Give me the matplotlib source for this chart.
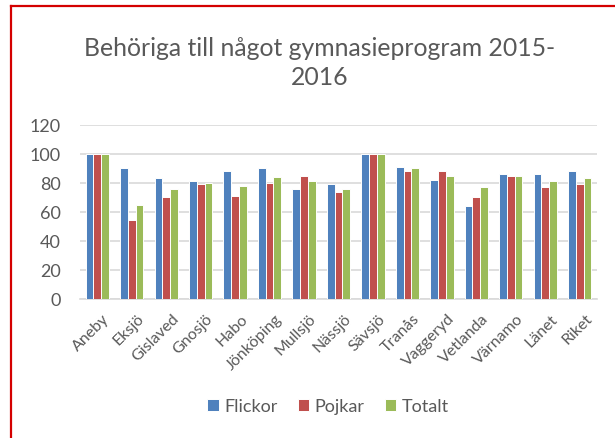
import matplotlib
matplotlib.use("Agg")
import matplotlib.pyplot as plt
from matplotlib.lines import Line2D
import numpy as np

plt.rcParams['font.family'] = ['Lato', 'DejaVu Sans']

categories = ["Aneby", "Eksjö", "Gislaved", "Gnosjö", "Habo", "Jönköping", "Mullsjö",
              "Nässjö", "Sävsjö", "Tranås", "Vaggeryd", "Vetlanda", "Värnamo", "Länet", "Riket"]
flickor = [100, 90, 83, 81, 88, 90, 76, 79, 100, 91, 82, 64, 86, 86, 88]
pojkar = [100, 54, 70, 79, 71, 80, 85, 74, 100, 88, 88, 70, 85, 77, 79]
totalt = [100, 65, 76, 80, 78, 84, 81, 76, 100, 90, 85, 77, 85, 81, 83]
series_names = ["Flickor", "Pojkar", "Totalt"]
colors = ["#4F81BD", "#C0504D", "#9BBB59"]
yticks = [0, 20, 40, 60, 80, 100, 120]

text_color = "#595959"
grid_color = "#D9D9D9"

fig = plt.figure(figsize=(6.15, 4.39), dpi=100)
ax = fig.add_axes([80 / 615, 1 - 299.5 / 439, 517 / 615, (299.5 - 126) / 439])

x = np.arange(len(categories))
w = 0.225
handles = []
for i, (vals, name, c) in enumerate(zip([flickor, pojkar, totalt], series_names, colors)):
    h = ax.bar(x + (i - 1) * w, vals, width=w, color=c, edgecolor="white",
               linewidth=0.7, label=name, zorder=3)
    handles.append(h)

ax.set_xlim(-0.5, len(categories) - 0.5)
ax.set_ylim(0, 120)
ax.set_yticks(yticks)
ax.set_yticklabels([str(v) for v in yticks], fontsize=13, color=text_color)
ax.yaxis.grid(True, color=grid_color, linewidth=1.2, zorder=0)
for s in ["top", "right", "left"]:
    ax.spines[s].set_visible(False)
ax.spines["bottom"].set_color(grid_color)
ax.spines["bottom"].set_linewidth(1.2)

ax.set_xticks(x + 0.15)
ax.set_xticklabels(categories, rotation=45, ha="right", rotation_mode="anchor",
                   fontsize=11.5, color=text_color)
ax.tick_params(axis="y", length=0, pad=14)
ax.tick_params(axis="x", length=0, pad=9)

fig.text(320 / 615, 1 - 63 / 439, "Behöriga till något gymnasieprogram 2015-\n2016",
         ha="center", va="center", fontsize=17.8, color=text_color, linespacing=1.3)

fig.legend(handles=handles, labels=series_names, loc="center",
           bbox_to_anchor=(328 / 615, 1 - 407 / 439), ncol=3, frameon=False,
           fontsize=13, labelcolor=text_color, handlelength=0.65, handleheight=0.65,
           handletextpad=0.3, columnspacing=1.1)

# red frame on the left and top edges
fig.add_artist(Line2D([10.7 / 615, 10.7 / 615], [0, 1 - 7.3 / 439], transform=fig.transFigure,
                      color="#D40000", linewidth=1.6))
fig.add_artist(Line2D([10.7 / 615, 1], [1 - 7.3 / 439, 1 - 7.3 / 439], transform=fig.transFigure,
                      color="#D40000", linewidth=1.6))

fig.savefig("out.png", dpi=100)
